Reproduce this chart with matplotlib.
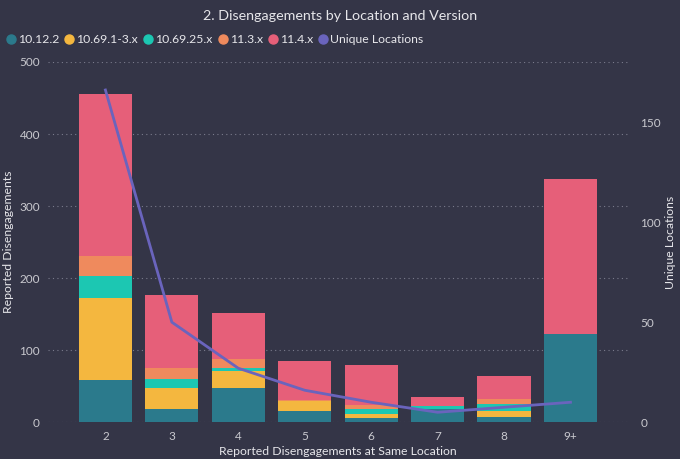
import matplotlib.pyplot as plt
import numpy as np
from matplotlib.lines import Line2D

plt.rcParams['font.family'] = ['Lato', 'DejaVu Sans']

# data
groups = ['2', '3', '4', '5', '6', '7', '8', '9+']
v_10_12_2 = [58, 18, 48, 15, 6, 18, 8, 122]
v_10_69_1 = [114, 30, 23, 15, 6, 0, 8, 0]
v_10_69_25 = [31, 12, 5, 0, 6, 4, 9, 0]
v_11_3 = [28, 15, 12, 1, 6, 0, 7, 0]
v_11_4 = [224, 102, 64, 54, 55, 13, 32, 216]
unique_locs = [166, 50, 27, 16, 10, 5, 7.5, 10]

series = [('10.12.2', v_10_12_2, '#2b7a8c'),
          ('10.69.1-3.x', v_10_69_1, '#f4b73f'),
          ('10.69.25.x', v_10_69_25, '#1cc7b2'),
          ('11.3.x', v_11_3, '#ef8a5d'),
          ('11.4.x', v_11_4, '#e65f79')]
line_col = '#6a64bd'
bg = '#343547'
txt = '#e6e6ea'
tick_col = '#c9c9cf'

fig = plt.figure(figsize=(6.8, 4.59), dpi=100, facecolor=bg)
ax = fig.add_axes([0.071, 0.08, 0.852, 0.785])
ax.set_facecolor(bg)
x = np.arange(len(groups))
bottom = np.zeros(len(groups))
for name, vals, col in series:
    ax.bar(x, vals, 0.8, bottom=bottom, color=col, label=name, zorder=2)
    bottom += np.array(vals)

ax.set_ylim(0, 500)
ax.set_xlim(-0.86, 7.86)
ax.set_yticks([0, 100, 200, 300, 400, 500])
ax.set_xticks(x)
ax.set_xticklabels(groups)
ax.yaxis.grid(True, color='#7a7b8c', linestyle=(0, (1, 3)), linewidth=0.8, zorder=0)
for s in ax.spines.values():
    s.set_visible(False)
ax.tick_params(colors=tick_col, labelsize=8.5, length=0, pad=6)
ax.set_xlabel('Reported Disengagements at Same Location', color=txt, fontsize=8.8, labelpad=3)
ax.set_ylabel('Reported Disengagements', color=txt, fontsize=8.8, labelpad=4)

ax2 = ax.twinx()
ax2.plot(x, unique_locs, color=line_col, linewidth=2, zorder=3, label='Unique Locations')
ax2.set_ylim(0, 180)
ax2.set_yticks([0, 50, 100, 150])
for s in ax2.spines.values():
    s.set_visible(False)
ax2.tick_params(colors=tick_col, labelsize=8.5, length=0, pad=9)
ax2.set_ylabel('Unique Locations', color=txt, fontsize=8.8, labelpad=3)

fig.text(0.5, 0.966, '2. Disengagements by Location and Version', color=txt,
         fontsize=10.3, ha='center', va='center')

labels = [s[0] for s in series] + ['Unique Locations']
handles = [Line2D([], [], marker='o', linestyle='', color=c, markersize=6.5)
           for _, _, c in series] + [Line2D([], [], marker='o', linestyle='', color=line_col, markersize=6.5)]
leg = fig.legend(handles, labels, loc='center left', bbox_to_anchor=(0.0, 0.913),
                 ncol=6, frameon=False, fontsize=8.8, handletextpad=0.15,
                 columnspacing=0.45, handlelength=0.8, borderaxespad=0.1)
for t in leg.get_texts():
    t.set_color(txt)

fig.savefig('out.png', dpi=100, facecolor=bg)
